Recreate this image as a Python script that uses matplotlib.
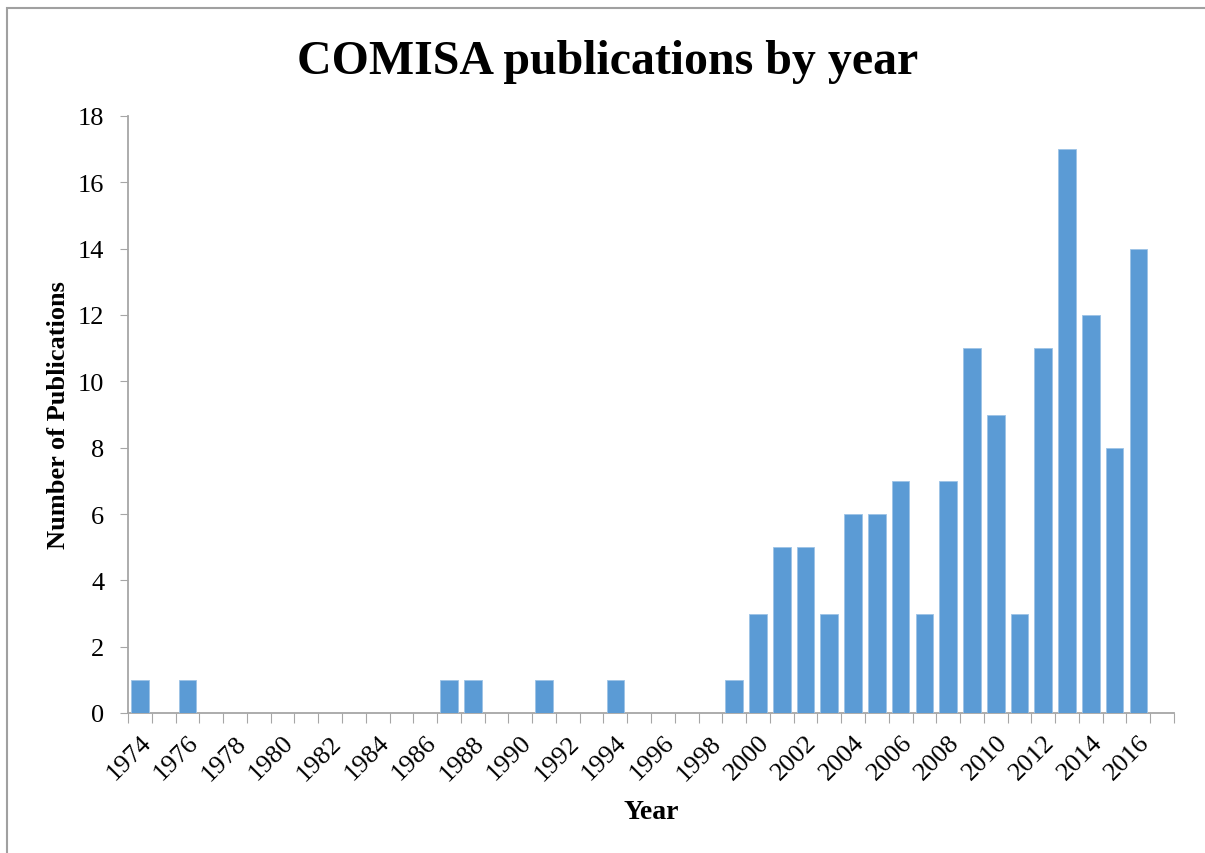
import numpy as np
import matplotlib.pyplot as plt
from matplotlib.patches import Rectangle

plt.rcParams.update({
    "font.family": "serif",
    "font.serif": ["Liberation Serif", "DejaVu Serif"],
})

# publications per year (1974-2017)
years = list(range(1974, 2018))
counts = [1, 0, 1, 0, 0, 0, 0, 0, 0, 0,
          0, 0, 0, 1, 1, 0, 0, 1, 0, 0,
          1, 0, 0, 0, 0, 1, 3, 5, 5, 3,
          6, 6, 7, 3, 7, 11, 9, 3, 11, 17,
          12, 8, 14, 0]
year_labels = [str(y) for y in years[::2] if y <= 2016]

fig = plt.figure(figsize=(12.05, 8.54), dpi=100)
ax = fig.add_axes([128 / 1205, 1 - 714 / 854, (1174 - 128) / 1205, (714 - 117) / 854])

x = np.arange(len(years))
ax.bar(x, counts, width=0.74, color='#5B9BD5', edgecolor='#9DC3E6', linewidth=0.6, zorder=3)

axis_col = '#A6A6A6'
for side in ['top', 'right']:
    ax.spines[side].set_visible(False)
for side in ['left', 'bottom']:
    ax.spines[side].set_color(axis_col)
    ax.spines[side].set_linewidth(1.3)

ax.set_xlim(-0.5, len(years) - 0.5)
ax.set_ylim(0, 18)
ax.set_yticks(np.arange(0, 19, 2))
ax.tick_params(axis='y', which='major', length=6, color=axis_col, labelsize=19, pad=11)

# tick marks between categories, labels centred on every other bar
ax.set_xticks(np.arange(-0.5, len(years), 1.0))
ax.set_xticklabels([])
ax.tick_params(axis='x', which='major', length=7, color=axis_col)
ax.set_xticks(x[::2][:len(year_labels)], minor=True)
ax.set_xticklabels(year_labels, minor=True, rotation=45, ha='right', va='top',
                   rotation_mode='anchor', fontsize=19)
ax.tick_params(axis='x', which='minor', length=0, pad=13)

ax.set_ylabel('Number of Publications', fontsize=19, fontweight='bold')
ax.yaxis.set_label_coords(-(128 - 70) / (1174 - 128), 0.5)
ax.set_xlabel('Year', fontsize=20, fontweight='bold')
ax.xaxis.set_label_coords((651 - 128) / (1174 - 128), -(800 - 714) / (714 - 117))

fig.text(608 / 1205, 1 - 62 / 854, 'COMISA publications by year', ha='center', va='center',
         fontsize=34.5, fontweight='bold')

# chart area border
fig.patches.append(Rectangle((7 / 1205, -0.1), 1.2, 1.1 - 9 / 854, transform=fig.transFigure,
                             fill=False, edgecolor='#A0A0A0', linewidth=1.5))

plt.savefig('out.png', dpi=100)
